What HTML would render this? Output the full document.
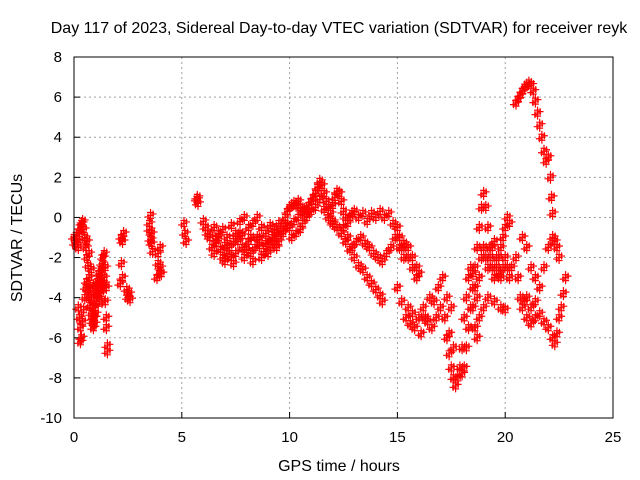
<!DOCTYPE html>
<html><head><meta charset="utf-8"><style>
body{margin:0;background:#fff}
svg{display:block;font-family:"Liberation Sans",Arial,sans-serif}
</style></head><body>
<svg id="chart" width="640" height="480" viewBox="0 0 640 480">
<rect width="640" height="480" fill="#fff"/>
<text x="339" y="33" font-size="16" text-anchor="middle">Day 117 of 2023, Sidereal Day-to-day VTEC variation (SDTVAR) for receiver reyk</text>
<g id="grid"></g>
<g id="ticks"></g>
<g id="marks"></g>
<rect x="74" y="57" width="539" height="361" fill="none" stroke="#000" stroke-width="1"/>
<text x="339" y="471" font-size="16" text-anchor="middle">GPS time / hours</text>
<text x="22" y="238" font-size="16" text-anchor="middle" transform="rotate(-90 22 238)">SDTVAR / TECUs</text>
</svg>
<script>
const xTicks=[0,5,10,15,20,25];
const yTicks=[8,6,4,2,0,-2,-4,-6,-8,-10];
const trackA=[[0,-1],[0.05,-1.3],[0.1,-0.9],[0.15,-1.2],[0.2,-1.5],[0.25,-0.8],[0.3,-0.5],[0.35,-0.3],[0.4,-0.2],[0.45,-0.6],[0.5,-1],[0.55,-1.5],[0.6,-2],[0.65,-2.4],[0.7,-3],[0.75,-3.5],[0.8,-4],[0.85,-4.5],[0.9,-5],[0.95,-5.3],[1.0,-4.8],[1.05,-4.2],[1.1,-3.8],[1.15,-3.3],[1.2,-3],[1.25,-2.6],[1.3,-2.3],[1.35,-2.0],[1.4,-1.8],[1.45,-2.5],[1.5,-3.5],[0.6,-1.2],[0.7,-1.8],[0.8,-2.6],[0.9,-3.4],[1.0,-3.6],[1.1,-3.2],[1.2,-3.6],[1.3,-3.4],[1.4,-3.3]];
const trackB=[[0.2,-4.5],[0.25,-5],[0.3,-5.5],[0.35,-6],[0.3,-6.2],[0.4,-5.2],[0.45,-4.6],[0.5,-4],[0.55,-3.5],[0.6,-3.2],[0.65,-3.6],[0.7,-4],[0.75,-4.4],[0.8,-4.8],[0.85,-5.2],[0.9,-5.5],[0.95,-5],[1.0,-4.5],[1.05,-4],[1.1,-3.4],[1.15,-2.8],[1.2,-3.2],[1.25,-3.8],[1.3,-4.2],[1.35,-3.5],[1.4,-3],[1.45,-4.2],[1.5,-5],[1.5,-5.5],[1.55,-6.4],[1.55,-6.7]];
const trackEarly=[[2.2,-1],[2.25,-1.2],[2.3,-0.8],[2.2,-2.3],[2.15,-3.3],[2.25,-3],[2.45,-3.6],[2.5,-4],[2.55,-3.8],[2.6,-4.1],[3.5,-0.3],[3.55,0.1],[3.5,-0.6],[3.6,-0.8],[3.55,-1.1],[3.6,-1.3],[3.65,-1.7],[3.9,-1.8],[3.9,-2.3],[3.95,-2.8],[4.0,-2.5],[4.0,-1.5],[4.05,-2.8],[3.85,-3],[5.1,-0.3],[5.15,-0.8],[5.2,-1.2],[5.7,0.9],[5.75,0.7],[5.72,1]];
const trackC=[[6.0,-0.2],[6.1,-0.5],[6.2,-0.8],[6.3,-1],[6.4,-1.5],[6.5,-1.8],[6.6,-1.3],[6.7,-1],[6.8,-1.6],[6.9,-2],[7.0,-2.2],[7.1,-1.8],[7.2,-1.5],[7.3,-2],[7.4,-2.3],[7.5,-1.8],[7.6,-1.2],[7.7,-0.8],[7.8,-1.5],[7.9,-2],[8.0,-1.6],[8.1,-1.2],[8.2,-1.8],[8.3,-2.2],[8.4,-1.5],[8.5,-1],[8.6,-1.4],[8.7,-2],[8.8,-1.7],[8.9,-1.3],[9.0,-1.8],[9.1,-1.5],[9.2,-1],[9.3,-1.2],[9.4,-0.8],[9.5,-1.2],[9.6,-0.7],[9.7,-0.3],[9.8,0],[9.9,0.3]];
const trackD=[[6.5,-0.5],[6.7,-0.8],[6.9,-0.6],[7.1,-1],[7.3,-0.4],[7.5,-0.8],[7.7,-0.2],[7.9,0],[8.1,-0.5],[8.3,-0.3],[8.5,0],[8.7,-0.5],[8.9,-0.8],[9.1,-0.4],[9.3,-0.6],[9.5,-0.3],[9.7,-0.8],[9.9,-0.4],[6.6,-1.1],[7.0,-1.4],[7.4,-1.2],[7.8,-0.9],[8.2,-1],[8.6,-1.1],[9.0,-1.2],[9.4,-1.5]];
const trackE=[[10,0.5],[10.1,0.6],[10.2,0.7],[10.3,0.6],[10.4,0.8],[10.5,0.5],[10.6,0.3],[10.7,0.4],[10.8,0.2],[10.9,0.6],[11.0,0.8],[11.1,1],[11.2,1.2],[11.3,1.5],[11.4,1.8],[11.5,1.6],[11.6,1.2],[11.7,0.8],[11.8,0.5],[11.9,0.2],[12.0,0.6],[12.1,1],[12.2,1.3],[12.3,1.2],[12.4,0.8],[12.5,0.3],[12.6,0],[12.7,-0.3],[12.8,0],[12.9,0.2],[13,0.3],[13.2,0],[13.4,0.2],[13.6,-0.2],[13.8,0.2],[14,0],[14.2,0.3],[14.4,0],[14.6,0.2],[14.8,-0.3],[15,-0.5],[15.1,-1],[15.2,-1.5],[15.3,-1.3],[15.5,-2],[15.7,-2.5],[15.9,-3]];
const trackE2=[[10,-0.5],[10.2,-0.2],[10.4,0],[10.6,-0.3],[10.8,0],[11,0.3],[11.2,0.5],[11.4,0.9],[11.6,0.4],[11.8,0],[12,-0.3],[10.1,-1],[10.3,-0.8],[10.5,-0.6]];
const trackF=[[12,-0.2],[12.2,-0.5],[12.4,-0.8],[12.6,-1.2],[12.8,-1.6],[13,-2],[13.2,-2.4],[13.4,-2.6],[13.6,-3],[13.8,-3.3],[14,-3.6],[14.2,-3.9],[14.3,-4.2]];
const trackG=[[12.5,-0.5],[12.7,-1],[12.9,-1.5],[13.1,-1.2],[13.3,-1],[13.5,-1.3],[13.7,-1.5],[13.9,-1.8],[14.1,-2],[14.3,-2.2],[14.5,-1.8],[14.7,-1.5],[14.9,-1],[15.1,-1.5],[15.3,-2],[15.5,-1.5],[15.7,-2],[15.9,-2.5],[16,-2.8]];
const trackH=[[15,-3.5],[15.2,-4.2],[15.4,-5],[15.6,-5.3],[15.8,-5.5],[16,-5],[16.2,-4.5],[16.4,-5.2],[16.6,-5.5],[16.8,-5],[17,-4.5],[17.2,-5],[17.4,-5.8],[17.6,-6.5],[15.5,-4.5],[15.7,-4.8],[16.1,-5.8],[16.3,-5],[16.5,-4],[16.7,-4.2],[16.9,-3.5],[17.1,-3],[17.3,-4],[17.5,-4.5]];
const trackI=[[17.3,-6],[17.4,-6.8],[17.5,-7.5],[17.6,-8],[17.7,-8.4],[17.8,-8],[17.9,-7.5],[18,-7.8],[18.1,-7.5],[18.2,-6.5],[18.3,-5.5],[18.4,-4.5],[18.5,-3.5],[18.6,-2.5],[18.7,-1.5],[18.8,-0.5],[18.9,0.5],[19,1.2],[19.1,0.5],[19.2,-0.5],[19.3,-1.5],[19.4,-2.5],[19.5,-3],[19.6,-2.5],[19.7,-2],[19.8,-1.5],[19.9,-1],[20,-0.5],[20.1,0],[20.2,-0.3]];
const trackJ=[[18,-6.5],[18.1,-5],[18.2,-4],[18.3,-3],[18.4,-2.5],[18.5,-2.8],[18.6,-3.5],[18.7,-4],[18.8,-3],[18.9,-2],[19,-1.5],[19.1,-2],[19.2,-2.5],[19.3,-2],[19.4,-1.5],[19.5,-1.2],[19.6,-2],[19.7,-2.8],[19.8,-3],[19.9,-2.5],[20,-2],[20.1,-2.5],[20.2,-3],[20.3,-2.5],[18.5,-4.5],[18.6,-5.5],[18.7,-6],[18.8,-5],[19,-4.5],[19.2,-4],[19.5,-4.2],[19.8,-4.5],[20,-4.6]];
const trackK=[[20.5,5.7],[20.6,5.9],[20.7,6.1],[20.8,6.3],[20.9,6.5],[21,6.6],[21.1,6.7],[21.2,6.6],[21.3,6.3],[21.4,5.8],[21.5,5.2],[21.6,4.6],[21.7,4],[21.8,3.3],[21.9,2.8],[22,3],[22.1,2],[22.15,1],[22.2,0.2]];
const trackL=[[20.5,-2],[20.6,-3],[20.7,-4],[20.8,-4.5],[20.9,-4.2],[21,-4],[21.2,-4.5],[21.4,-5],[21.6,-4.8],[21.8,-5.2],[22,-5.5],[22.2,-6],[22.3,-6.3],[22.4,-5.8],[22.5,-5],[22.6,-4.5],[22.7,-3.8],[22.8,-3],[21,-5],[21.2,-5.3],[21.4,-4.2],[21.6,-3.5],[21.8,-2.5],[22,-1.5],[22.2,-1],[22.4,-1.5],[22.5,-2],[22.3,-1.2],[20.8,-1],[21,-1.5],[21.2,-2.5],[21.4,-3]];
const tracks=[trackA,trackB,trackEarly,trackC,trackD,trackE,trackE2,trackF,trackG,trackH,trackI,trackJ,trackK,trackL];

const NS='http://www.w3.org/2000/svg';
const X0=74,X1=613,Y0=57,Y1=418,XMIN=0,XMAX=25,YMIN=-10,YMAX=8;
function sx(t){return X0+(t-XMIN)/(XMAX-XMIN)*(X1-X0);}
function sy(v){return Y1-(v-YMIN)/(YMAX-YMIN)*(Y1-Y0);}
function mk(tag,attrs,parent){const e=document.createElementNS(NS,tag);for(const k in attrs)e.setAttribute(k,attrs[k]);parent.appendChild(e);return e;}
const grid=document.getElementById('grid'),ticks=document.getElementById('ticks'),marks=document.getElementById('marks');
xTicks.forEach(t=>{
  const x=sx(t);
  if(t>XMIN&&t<XMAX){const g=mk('line',{x1:x,x2:x,y1:Y0,y2:Y1,stroke:'#a0a0a0','stroke-dasharray':'2,3'},grid);
  
  }
  const tl=mk('line',{x1:x,x2:x,y1:Y1,y2:Y1-6,stroke:'#000'},ticks);
  
  
  const tx=mk('text',{x:x,y:Y1+24,'font-size':15,'text-anchor':'middle'},ticks);tx.textContent=t;
  
  
});
yTicks.forEach(v=>{
  const y=sy(v);
  if(v>YMIN&&v<YMAX){const g=mk('line',{x1:X0,x2:X1,y1:y,y2:y,stroke:'#a0a0a0','stroke-dasharray':'2,3'},grid);
  
  }
  const tl=mk('line',{x1:X0,x2:X0+6,y1:y,y2:y,stroke:'#000'},ticks);
  
  
  const tx=mk('text',{x:X0-12,y:y+5,'font-size':15,'text-anchor':'end'},ticks);tx.textContent=v;
  
  
});
// marker glyph drawn as a small cluster of '+' to mimic dense sampling
const glyph=[[0,0],[-2.5,1.5],[2.5,-1.5],[0,3],[0,-3]];
tracks.forEach(tr=>tr.forEach(p=>{
  const x=sx(p[0]),y=sy(p[1]);
  let d='';
  glyph.forEach(o=>{const gx=x+o[0],gy=y+o[1];d+=`M${gx-3.5},${gy}H${gx+3.5}M${gx},${gy-3.5}V${gy+3.5}`;});
  const m=mk('path',{d:d,stroke:'#f00','stroke-width':1.2,fill:'none'},marks);
  
  
}));
</script>
</body></html>
